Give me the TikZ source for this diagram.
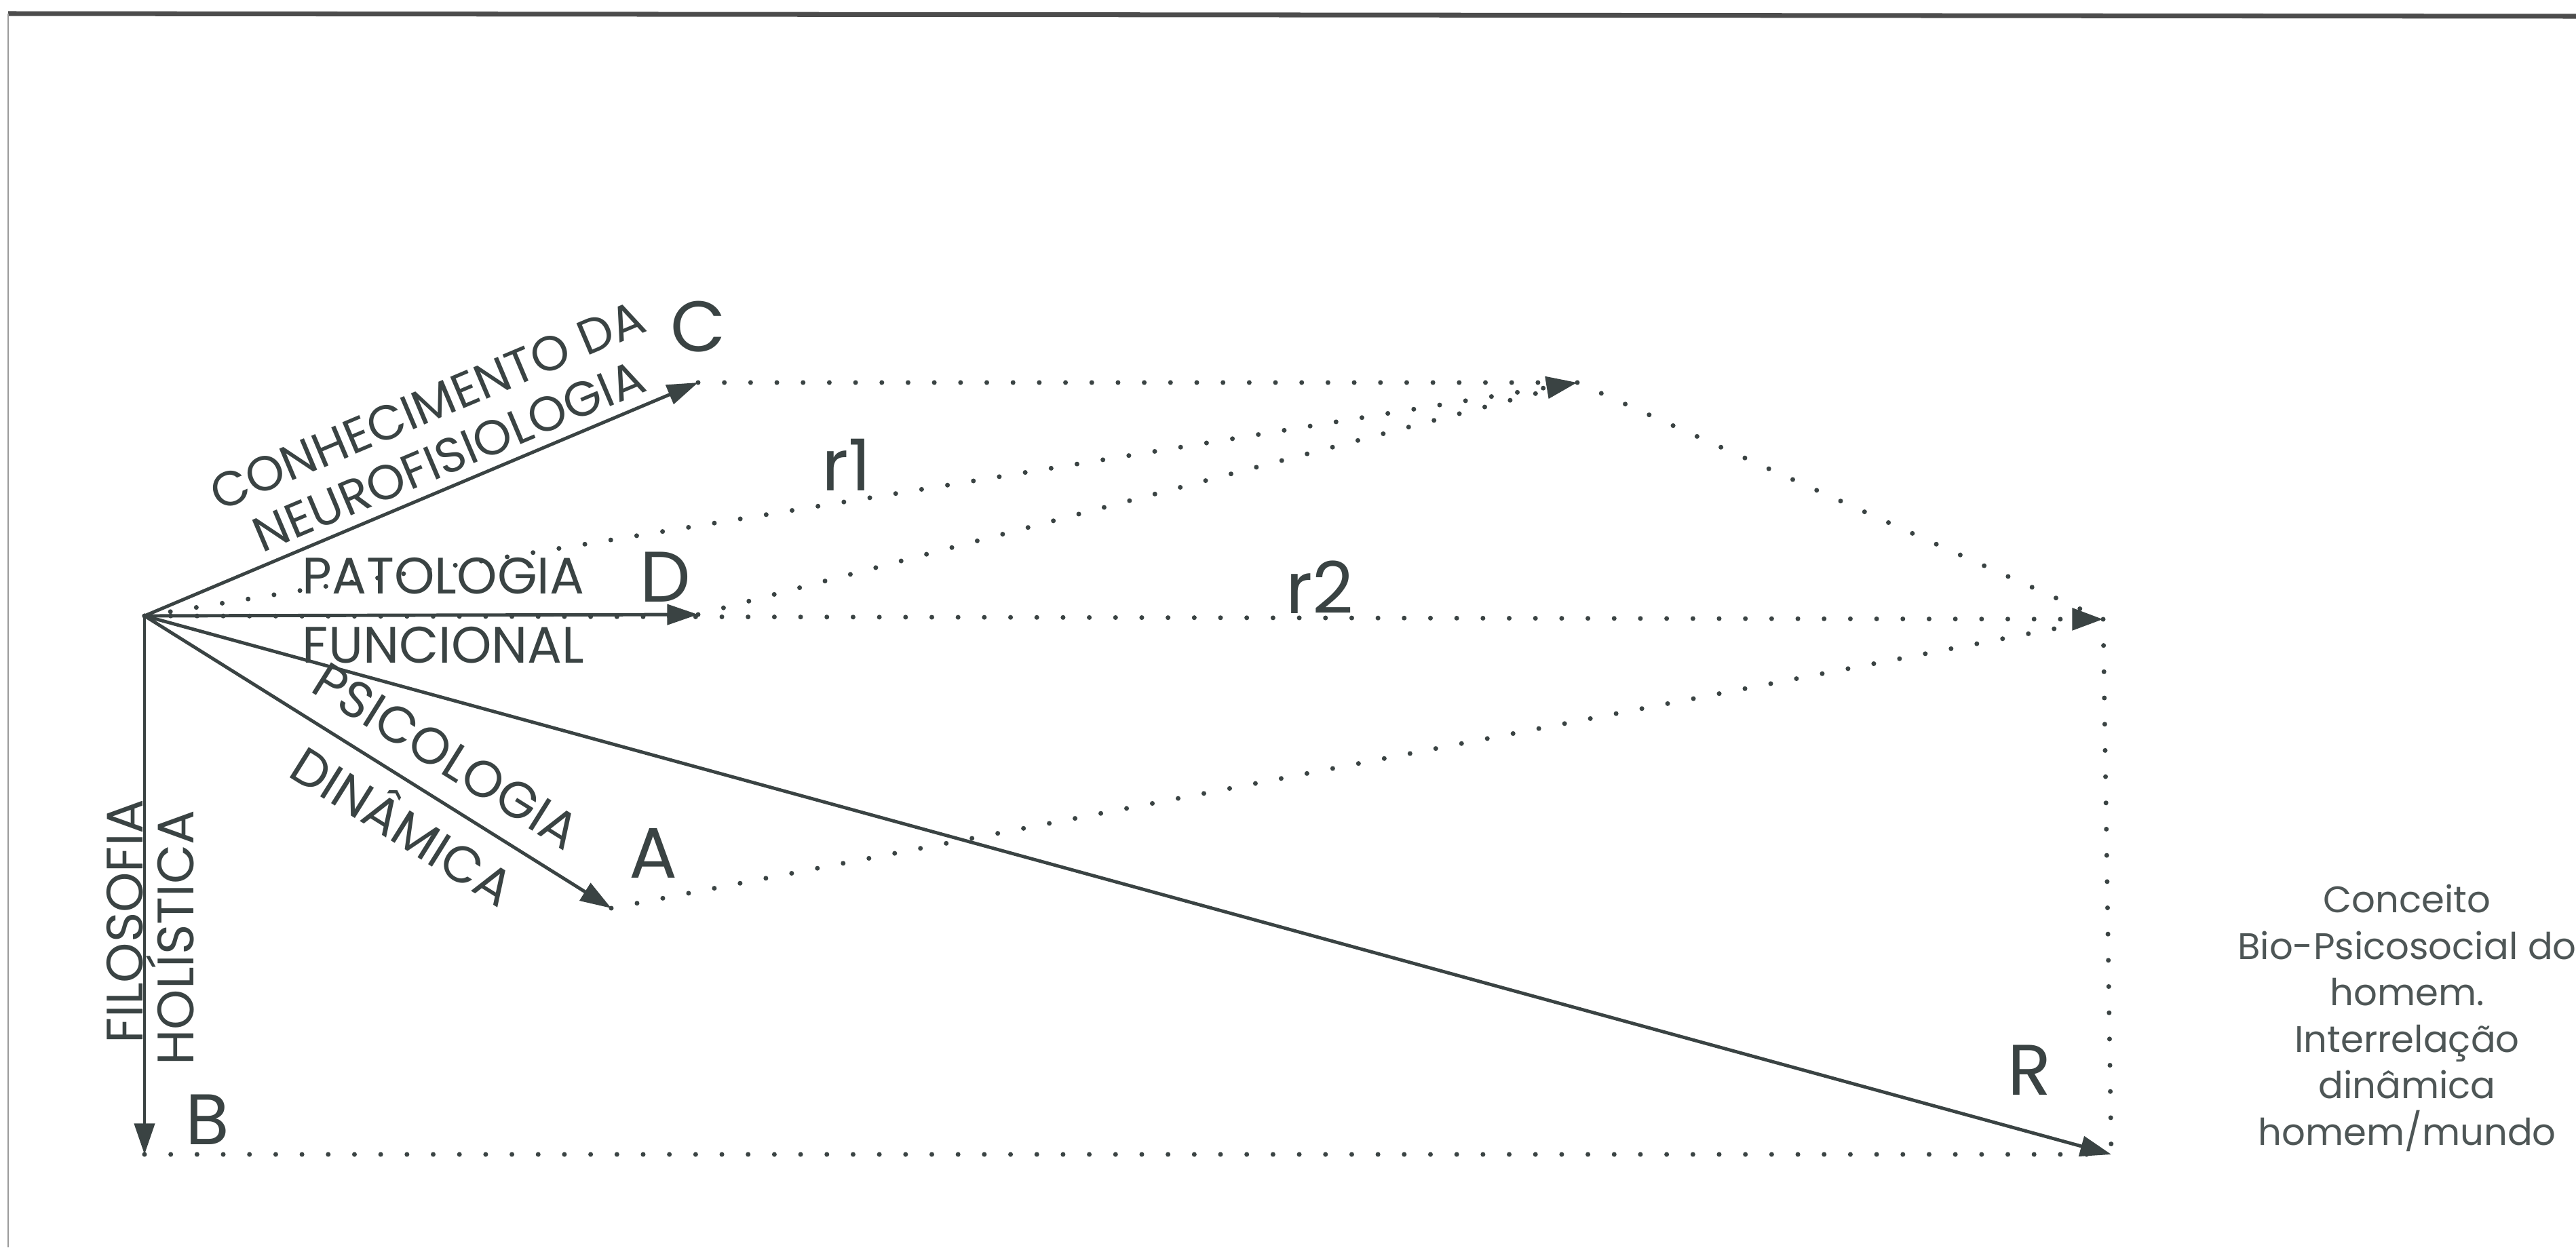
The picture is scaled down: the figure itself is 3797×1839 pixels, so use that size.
\documentclass[tikz,border=0pt]{standalone}
\usepackage{fontspec}
\setmainfont{Poppins}
\usepackage{tikz}
\usetikzlibrary{arrows.meta,positioning}
\definecolor{ink}{HTML}{3A4343}
\definecolor{framegray}{HTML}{9A9A9A}
\tikzset{
  vecarrow/.style={
    -{Triangle[length=13pt, width=8.5pt]}, line width=1.4pt, draw=ink
  },
  dotline/.style={
    draw=ink, line width=2pt, line cap=round, dash pattern=on 0pt off 11pt
  },
  dotarrow/.style={
    dotline, -{Triangle[length=13pt, width=9pt]}
  },
  ptlabel/.style={
    font=\fontsize{30}{36}\selectfont, text=ink, inner sep=0pt
  },
  veclabel/.style={
    font=\fontsize{21.5}{24}\selectfont, text=ink, align=center, inner sep=0pt
  },
  notebox/.style={
    font=\fontsize{15.5}{19.5}\selectfont, text=ink!90, align=center
  },
  frameline/.style={draw=framegray, line width=#1},
  frameline/.default=0.6pt,
}

\begin{document}
\begin{tikzpicture}[x=0.01cm, y=-0.01cm]
    \useasboundingbox (0,0) rectangle (3797,1839);
    % ── page frame ──
    \draw[frameline=2pt, draw=black!70] (12,20) -- (3797,24);
    \draw[frameline] (12,20) -- (12,1839);

    % ── vector end points ──
    \coordinate (O) at (213,908);
    \coordinate (C) at (1029,564);
    \coordinate (D) at (1029,906);
    \coordinate (A) at (901,1339);
    \coordinate (B) at (213,1702);
    \coordinate (r1) at (2325,564);
    \coordinate (r2) at (3100,913);
    \coordinate (R) at (3112,1702);

    % ── construction (dotted) ──
    \draw[dotline] (C) -- (r1);
    \draw[dotline] (D) -- (r1);
    \draw[dotarrow] (O) -- node[ptlabel, above=0.12cm, pos=0.49] (labr1) {r1} (r1);
    \draw[dotline] (r1) -- (r2);
    \draw[dotline] (A) -- (r2);
    \draw[dotarrow] (O) -- node[ptlabel, above=0.03cm, pos=0.6] (labr2) {r2} (r2);
    \draw[dotline] (r2) -- (R);
    \draw[dotline] (B) -- (R);

    % ── component vectors ──
    \draw[vecarrow] (O) -- node[veclabel, font=\fontsize{20.5}{23}\selectfont, sloped, above=0.15cm, pos=0.57] (labC)
        {CONHECIMENTO DA\\NEUROFISIOLOGIA} (C);
    \draw[vecarrow] (O) -- node[veclabel, above=0.28cm, pos=0.54] (labDa) {PATOLOGIA}
        node[veclabel, below=0.15cm, pos=0.54] (labDb) {FUNCIONAL} (D);
    \draw[vecarrow] (O) -- node[veclabel, sloped, above=0.32cm, pos=0.6] (labAa) {PSICOLOGIA}
        node[veclabel, sloped, below=0.18cm, pos=0.6] (labAb) {DINÂMICA} (A);
    \draw[vecarrow] (O) -- node[veclabel, rotate=90, above=0.1cm, pos=0.58] (labBa) {FILOSOFIA}
        node[veclabel, rotate=90, below=0.14cm, pos=0.58] (labBb) {HOLÍSTICA} (B);
    \draw[vecarrow] (O) -- (R);

    % ── point letters ──
    \node[ptlabel, above=0.44cm of C] (nameC) {C};
    \node[ptlabel, above left=0.18cm and 0.1cm of D] (nameD) {D};
    \node[ptlabel, above right=0.44cm and 0.26cm of A] (nameA) {A};
    \node[ptlabel, above right=0.14cm and 0.6cm of B] (nameB) {B};
    \node[ptlabel, above left=0.87cm and 0.88cm of R] (nameR) {R};

    % ── result ──
    \node[notebox] (concept) at (3548,1501) {Conceito\\Bio-Psicosocial do\\homem.\\Interrelação\\dinâmica\\homem/mundo};
\end{tikzpicture}
\end{document}
